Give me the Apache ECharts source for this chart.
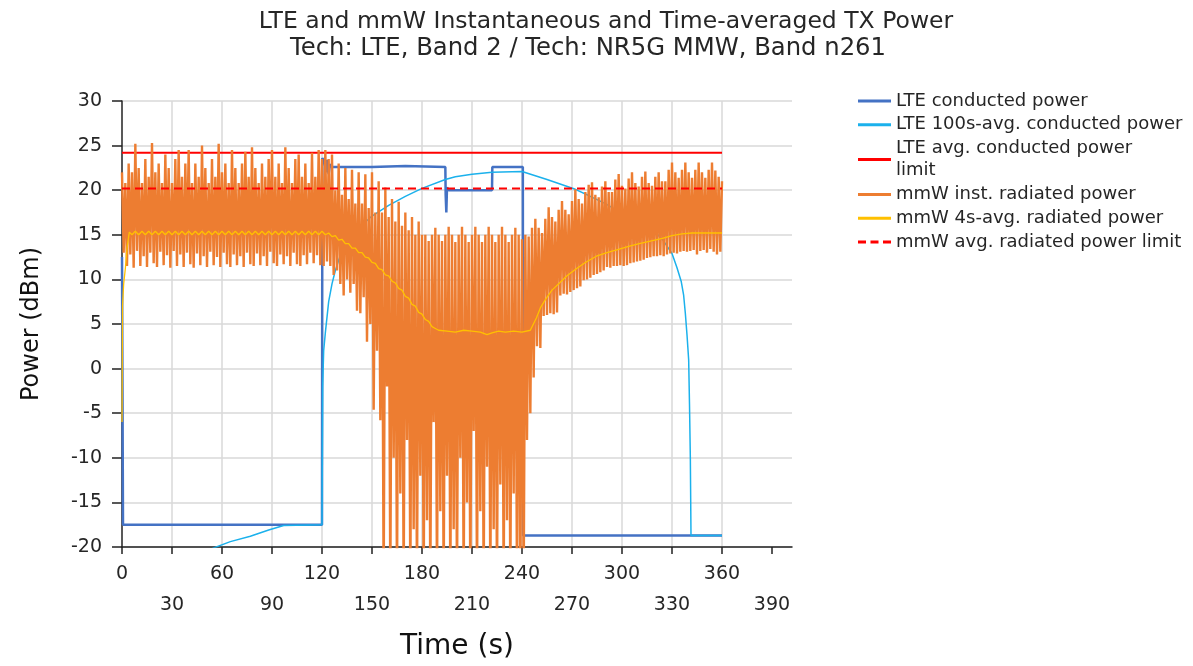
<!DOCTYPE html>
<html>
<head>
<meta charset="utf-8">
<script src="https://cdn.jsdelivr.net/npm/echarts@6/dist/echarts.min.js"></script>
<style>
html,body{margin:0;padding:0;background:#ffffff;}
#chart{width:1193px;height:666px;}
</style>
</head>
<body>
<div id="chart"></div>
<script>
// ---------- text ----------
const titleText = 'LTE and mmW Instantaneous and Time-averaged TX Power';
const subTitleText = 'Tech: LTE, Band 2 / Tech: NR5G MMW, Band n261';
const seriesNames = [
  'LTE conducted power',
  'LTE 100s-avg. conducted power',
  'LTE avg. conducted power limit',
  'mmW inst. radiated power',
  'mmW 4s-avg. radiated power',
  'mmW avg. radiated power limit'
];
const xTickValues = [0,30,60,90,120,150,180,210,240,270,300,330,360,390];

// ---------- LTE conducted power (time s, dBm) ----------
const lteCondT = [0,0.6,120,120.2,121.5,122.5,123.2,124,124.8,126,150,170,194,194.2,194.6,195,196,222,222.2,240.5,240.7,360];
const lteCondP = [12.5,-17.5,-17.5,23.6,23.2,22.0,23.4,21.8,22.9,22.6,22.6,22.7,22.6,19.5,17.5,20.3,20.0,20.0,22.6,22.6,-18.7,-18.7];

// ---------- LTE 100s-avg conducted power ----------
const lteAvgT = [0,10,20,30,40,55,65,77,88,97,120,120.4,121,122,124,126,128,131,135,140,150,160,170,180,194,200,210,222,240,255,272,280,290,300,310,320,325,330,333,335.5,337,338,339,340,340.5,341,341.4,360];
const lteAvgP = [-40,-27.5,-24.5,-22.7,-21.5,-20.1,-19.4,-18.8,-18.1,-17.6,-17.5,-2,2,4,7.5,9.5,11,12.7,14.2,15.4,17.1,18.3,19.3,20.2,21.2,21.5,21.8,22.0,22.1,21.2,20.1,19.4,18.5,17.4,16.4,15.3,14.3,12.9,11.3,9.8,8.2,6.2,3.8,1.0,-4,-10,-18.7,-18.7];

// ---------- limits ----------
const limitT = [0,360];
const lteLimitP = [24.2,24.2];
const mmwLimitP = [20.2,20.2];

// ---------- mmW instantaneous radiated power ----------
// local maxima at t = 0,2,4,...,360 s ; local minima at t = 1,3,...,359 s
const mmwStep = 1;
const mmwPeaks = [
  22,20.8,23,22,25.2,22.5,20.8,23.5,21.5,25.3,
  22,23,20.8,24,22.5,20.8,23.5,24.5,21.5,23,
  24.5,20.8,23,21.5,25,22.5,20.8,23.5,21.5,25.2,
  22,23,20.8,24.5,22.5,20.8,23,24.3,21.5,24.8,
  22.5,20.8,23,21.5,23.5,24.5,21.5,23,20.8,24.8,
  22.5,20.8,23.5,24,21.5,23,20.8,24.2,21.5,24.5,
  23.5,
  24.5,23.5,24,20,23,19.5,22.5,19,22.3,18.5,
  22,18.5,21.8,18,22,17.5,21,17.5,20.3,17,
  19,16.5,18.7,16,17.5,15.5,17,15,16.5,15,
  15,14.3,15,15.8,15,14.3,15,15.9,15,14.2,
  15,15.9,15,14.2,15,15.9,15,14.2,15,15.9,
  15,14.2,15,15.9,15,14.2,15,15.8,15,14.5,
  15,14.8,15.8,16.8,15.8,15.2,16.8,18.1,17,16.5,
  17.8,18.8,17.8,17.3,18.8,20.1,19,18.5,19.8,20.6,
  20.9,19.5,19.2,20.4,21,19.8,19.8,21.2,21.8,20.5,
  20.2,21.3,22,20.8,20.4,21.5,22.1,20.8,20.5,21.5,
  22,21,21,22.3,23.1,22,21.4,22.3,23.1,22,
  21.4,22.3,23.1,22,21.4,22.3,23.1,22.2,21.5,21
];
const mmwTroughs = [
  13.0,11.5,12.8,11.3,13.2,11.5,12.6,11.4,13.0,11.8,
  11.4,13.1,11.6,12.7,11.3,13.2,11.5,12.8,11.4,13.0,
  11.7,11.3,12.9,11.6,12.6,11.4,13.1,11.6,12.5,11.4,
  13.0,11.7,11.4,12.8,11.6,12.6,11.4,13.0,11.7,11.5,
  12.9,11.6,12.6,11.5,13.1,11.8,11.5,12.8,11.7,12.6,
  11.5,13.0,11.7,11.5,12.7,11.7,13.0,11.8,12.7,11.6,
  11.5,12,11.5,10.5,11,9.5,8.2,10,8.5,9.5,
  6.5,6.2,8,3,5,-4.6,2,-5.8,-25,-2,
  -25,-10,-25,-14,-25,-8,-25,-18,-25,-12,
  -25,-17,-25,-6,-25,-16,-25,-12,-25,-18,
  -25,-10,-25,-15,-25,-7,-25,-16,-25,-11,
  -25,-18,-25,-13,-25,-17,-25,-14,-25,-25,
  -25,-8,-5,-1,2.5,2.3,5.9,6,6.2,6.1,
  6.3,8.2,8.4,8.3,8.6,8.8,9,9.2,9.9,10,
  10.2,10.5,10.6,10.8,11,11.4,11.3,11.5,11.5,11.6,
  11.5,11.6,11.8,11.9,12,12.1,12.2,12.4,12.5,12.6,
  12.6,12.7,12.6,12.8,12.9,13,12.9,13.1,13.2,13.1,
  13.2,13.3,12.8,13.2,13.3,13,13.4,13.1,12.8,13.1
];

// ---------- mmW 4s-avg radiated power ----------
const mmwAvgT = [0,0.3,1,2,3,4.4,
  6,8,10,12,14,16,18,20,22,24,26,28,30,32,34,36,38,40,42,44,46,48,50,52,54,56,58,60,
  62,64,66,68,70,72,74,76,78,80,82,84,86,88,90,92,94,96,98,100,102,104,106,108,110,112,114,116,118,120,
  122,124,126,128,130,132,134,136,138,140,142,144,146,148,150,152,154,156,158,160,162,164,166,168,170,
  172,174,176,178,180,182,184,186,188,190,195,200,205,210,215,219,222,226,230,235,240,245,
  248.7,251,254.6,258,262.5,267,272.6,278,284.6,291,298.4,304,310.4,317,324.2,330,336,342,350,360];
const mmwAvgP = [-6,7,9.5,11.2,13.5,15.3,
  15.0,15.4,15.0,15.4,15.0,15.4,15.0,15.4,15.0,15.4,15.0,15.4,15.0,15.4,15.0,15.4,15.0,15.4,15.0,15.4,15.0,15.4,15.0,15.4,15.0,15.4,15.0,15.4,
  15.0,15.4,15.0,15.4,15.0,15.4,15.0,15.4,15.0,15.4,15.0,15.4,15.0,15.4,15.0,15.4,15.0,15.4,15.0,15.4,15.0,15.4,15.0,15.4,15.0,15.4,15.0,15.4,15.0,15.4,
  15.0,15.2,14.8,14.9,14.4,14.5,14.0,14.0,13.5,13.5,13.0,13.0,12.5,12.4,11.9,11.8,11.2,11.1,10.5,10.4,9.8,9.6,9.0,8.8,8.1,
  7.9,7.2,7.0,6.3,6.1,5.5,5.3,4.7,4.5,4.3,4.2,4.1,4.3,4.2,4.1,3.8,4.0,4.2,4.1,4.2,4.1,4.3,
  5.7,6.8,7.9,8.8,9.6,10.4,11.2,11.9,12.6,13.0,13.4,13.7,14.0,14.3,14.6,14.9,15.1,15.2,15.2,15.2];

// ---------- build data pairs ----------
function zip(ts, vs){ return ts.map((t,i)=>[t, vs[i]]); }
const mmwInst = [];
for (let i = 0; i < mmwPeaks.length; i++) {
  mmwInst.push([2*i*mmwStep, mmwPeaks[i]]);
  if (i < mmwTroughs.length) mmwInst.push([(2*i+1)*mmwStep, mmwTroughs[i]]);
}

const FONT = 'DejaVu Sans';
const TXT = '#262626';
const LINE_ICON = 'path://M0,0L33,0L33,3L0,3Z';
const DASH_ICON = 'path://M0,0L8,0L8,3L0,3Z M12.5,0L20.5,0L20.5,3L12.5,3Z M25,0L33,0L33,3L25,3Z';
const chart = echarts.init(document.getElementById('chart'), null, {renderer:'canvas'});
const base = {type:'line', showSymbol:false, symbol:'none', animation:false, emphasis:{disabled:true}};

chart.setOption({
  animation:false,
  backgroundColor:'#ffffff',
  title:[
    {text: titleText, left: 601, top: 3, textAlign:'center',
     textStyle:{fontFamily:FONT, fontSize:23.5, fontWeight:'normal', color:TXT, lineHeight:28}},
    {text: subTitleText, left: 583, top: 30, textAlign:'center',
     textStyle:{fontFamily:FONT, fontSize:24.3, fontWeight:'normal', color:TXT, lineHeight:28}}
  ],
  legend:{
    orient:'vertical', left:853, top:85,
    itemWidth:33, itemHeight:3, itemGap:1.8,
    textStyle:{fontFamily:FONT, fontSize:18, color:TXT, lineHeight:22},
    formatter: n => n === seriesNames[2] ? 'LTE avg. conducted power\nlimit' : n,
    data: seriesNames.map((n,i) => ({name:n, icon: i === 5 ? DASH_ICON : LINE_ICON}))
  },
  grid:{left:122, top:101, width:670, height:450, containLabel:false},
  xAxis:{
    type:'value', min:0, max:402,
    name:'Time (s)', nameLocation:'middle', nameGap:86,
    nameTextStyle:{fontFamily:FONT, fontSize:28, color:'#111'},
    axisLine:{show:true, onZero:false, lineStyle:{color:'#222', width:1.5}},
    axisTick:{show:true, length:7, customValues:xTickValues, lineStyle:{color:'#222', width:1.5}},
    axisLabel:{
      customValues:xTickValues, margin:12, fontFamily:FONT, fontSize:19, color:TXT, lineHeight:31,
      formatter: v => ((v/30) % 2 === 1 ? '\n' + v : '' + v)
    },
    splitLine:{show:true, showMinLine:false, showMaxLine:false, lineStyle:{color:'#d9d9d9', width:1.5}}
  },
  yAxis:{
    type:'value', min:-20, max:30, interval:5,
    name:'Power (dBm)', nameLocation:'middle', nameGap:78,
    nameTextStyle:{fontFamily:FONT, fontSize:24, color:'#111'},
    axisLine:{show:true, onZero:false, lineStyle:{color:'#222', width:1.5}},
    axisTick:{show:true, length:10, lineStyle:{color:'#222', width:1.5}},
    axisLabel:{margin:20, fontFamily:FONT, fontSize:19, color:TXT},
    splitLine:{show:true, lineStyle:{color:'#d9d9d9', width:1.5}}
  },
  series:[
    Object.assign({}, base, {name:seriesNames[0], data:zip(lteCondT, lteCondP), color:'#4472C4', lineStyle:{width:2.5, color:'#4472C4'}}),
    Object.assign({}, base, {name:seriesNames[1], data:zip(lteAvgT, lteAvgP), color:'#1BB1EC', lineStyle:{width:1.5, color:'#1BB1EC'}}),
    Object.assign({}, base, {name:seriesNames[2], data:zip(limitT, lteLimitP), color:'#FF0000', lineStyle:{width:2, color:'#FF0000'}}),
    Object.assign({}, base, {name:seriesNames[3], data:mmwInst, color:'#ED7D31', lineStyle:{width:2.4, color:'#ED7D31', join:'miter'}}),
    Object.assign({}, base, {name:seriesNames[4], data:zip(mmwAvgT, mmwAvgP), color:'#FFC000', lineStyle:{width:1.3, color:'#FFC000'}}),
    Object.assign({}, base, {name:seriesNames[5], data:zip(limitT, mmwLimitP), color:'#FF0000', lineStyle:{width:2, color:'#FF0000', type:[8,5]}})
  ]
});
</script>
</body>
</html>
